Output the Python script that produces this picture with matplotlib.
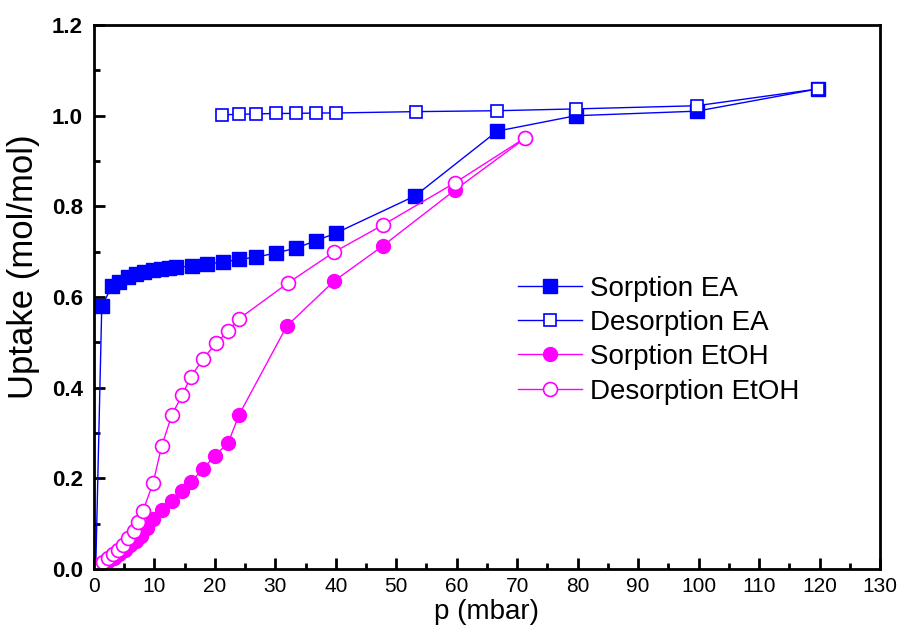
import numpy as np
import matplotlib
matplotlib.use("Agg")
import matplotlib.pyplot as plt
from matplotlib.ticker import MultipleLocator

plt.rcParams['font.family'] = ['Liberation Sans', 'DejaVu Sans']

# Sorption EA (filled squares)
p_sorp_ea = [0.3, 1.3, 3.0, 4.1, 5.6, 6.9, 8.3, 9.8, 11.1, 12.4, 13.6, 16.2, 18.7,
             21.3, 24.0, 26.8, 30.1, 33.4, 36.7, 40.0, 53.1, 66.7, 79.7, 99.7, 119.7]
u_sorp_ea = [0.0, 0.58, 0.624, 0.633, 0.644, 0.651, 0.655, 0.66, 0.662, 0.664, 0.666,
             0.668, 0.673, 0.677, 0.683, 0.688, 0.697, 0.708, 0.724, 0.741, 0.823,
             0.966, 1.0, 1.01, 1.059]

# Desorption EA (open squares)
p_desorp_ea = [21.2, 24.0, 26.8, 30.1, 33.4, 36.7, 40.0, 53.3, 66.7, 79.7, 99.7, 119.7]
u_desorp_ea = [1.002, 1.003, 1.004, 1.005, 1.005, 1.006, 1.006, 1.009, 1.011, 1.015,
               1.022, 1.059]

# Sorption EtOH (filled circles)
p_sorp_etoh = [0.6, 1.5, 2.4, 3.3, 4.2, 5.1, 6.0, 6.9, 7.8, 8.7, 9.8, 11.2, 12.9, 14.6,
               16.0, 18.0, 20.0, 22.2, 24.0, 31.9, 39.7, 47.8, 59.7, 71.3]
u_sorp_etoh = [0.005, 0.01, 0.017, 0.025, 0.033, 0.042, 0.052, 0.062, 0.073, 0.09,
               0.11, 0.13, 0.15, 0.172, 0.192, 0.22, 0.25, 0.278, 0.34, 0.536, 0.635,
               0.713, 0.836, 0.95]

# Desorption EtOH (open circles)
p_desorp_etoh = [0.7, 1.5, 2.3, 3.1, 4.0, 4.8, 5.6, 6.6, 7.3, 8.1, 9.8, 11.2, 12.9,
                 14.6, 16.0, 18.0, 20.2, 22.2, 24.0, 32.1, 39.7, 47.8, 59.7, 71.3]
u_desorp_etoh = [0.009, 0.015, 0.024, 0.033, 0.042, 0.053, 0.068, 0.084, 0.104, 0.128,
                 0.19, 0.271, 0.34, 0.384, 0.423, 0.463, 0.498, 0.525, 0.552, 0.631,
                 0.699, 0.759, 0.852, 0.951]

blue = '#0000ff'
mag = '#ff00ff'

fig = plt.figure(figsize=(9.03, 6.34), dpi=100)
ax = fig.add_axes([0.104, 0.1025, 0.8705, 0.858])

ax.plot(p_sorp_ea, u_sorp_ea, '-s', color=blue, lw=1, ms=10,
        markerfacecolor=blue, markeredgecolor=blue, label='Sorption EA')
ax.plot(p_desorp_ea, u_desorp_ea, '-s', color=blue, lw=1, ms=8,
        markerfacecolor='white', markeredgecolor=blue, markeredgewidth=1.2,
        label='Desorption EA')
ax.plot(p_sorp_etoh, u_sorp_etoh, '-o', color=mag, lw=1, ms=10,
        markerfacecolor=mag, markeredgecolor=mag, label='Sorption EtOH')
ax.plot(p_desorp_etoh, u_desorp_etoh, '-o', color=mag, lw=1, ms=10,
        markerfacecolor='white', markeredgecolor=mag, markeredgewidth=1.2,
        label='Desorption EtOH')

ax.set_xlim(0, 130)
ax.set_ylim(0, 1.2)
ax.xaxis.set_major_locator(MultipleLocator(10))
ax.xaxis.set_minor_locator(MultipleLocator(5))
ax.yaxis.set_major_locator(MultipleLocator(0.2))
ax.yaxis.set_minor_locator(MultipleLocator(0.1))
ax.yaxis.set_major_formatter(matplotlib.ticker.FormatStrFormatter('%.1f'))

ax.tick_params(which='major', direction='in', length=8, width=2)
ax.tick_params(which='minor', direction='in', length=4, width=2)
ax.tick_params(top=False, right=False, which='both')
ax.tick_params(axis='x', labelsize=15, pad=6)
ax.tick_params(axis='y', labelsize=16, pad=8)
for lbl in ax.get_yticklabels():
    lbl.set_fontweight('bold')
for s in ax.spines.values():
    s.set_linewidth(2)

ax.set_xlabel('p (mbar)', fontsize=20, labelpad=2)
ax.set_ylabel('Uptake (mol/mol)', fontsize=25)
ax.yaxis.set_label_coords(-0.068, 0.555)

leg = ax.legend(loc='upper left', bbox_to_anchor=(0.525, 0.56), frameon=False,
                fontsize=20, handlelength=2.3, numpoints=1, labelspacing=0.3,
                handletextpad=0.3, borderaxespad=0)

fig.savefig('out.png', dpi=100)
